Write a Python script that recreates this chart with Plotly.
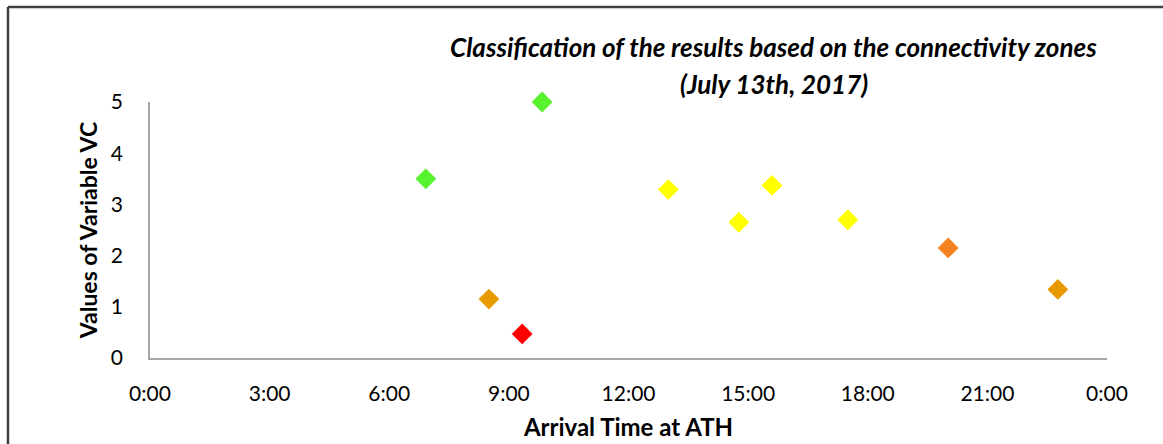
import plotly.graph_objects as go

arrival_times = ["6:55", "8:30", "9:20", "9:50", "13:00", "14:46", "15:36", "17:30", "20:01", "22:46"]
vc_values = [3.5, 1.15, 0.47, 5.0, 3.29, 2.65, 3.37, 2.70, 2.15, 1.34]
zone_colors = ["#58F22F", "#E89B00", "#FF0000", "#58F22F", "#FFFF00", "#FFFF00",
               "#FFFF00", "#FFFF00", "#F58220", "#E89B00"]
tick_hours = [0, 3, 6, 9, 12, 15, 18, 21, 24]
tick_labels = ["0:00", "3:00", "6:00", "9:00", "12:00", "15:00", "18:00", "21:00", "0:00"]


def to_hours(s):
    h, m = s.split(":")
    return int(h) + int(m) / 60.0


x_hours = [to_hours(t) for t in arrival_times]

FONT = "Lato"

fig = go.Figure()
fig.add_trace(go.Scatter(
    x=x_hours, y=vc_values, mode="markers", cliponaxis=False,
    marker=dict(symbol="diamond", size=16, color=zone_colors, line=dict(width=0)),
    showlegend=False,
))

fig.update_layout(
    width=1163, height=444,
    margin=dict(l=150, r=56, t=102, b=86, autoexpand=False),
    paper_bgcolor="white", plot_bgcolor="white",
    font=dict(family=FONT, size=21, color="black"),
    xaxis=dict(
        range=[0, 24], tickvals=tick_hours, ticktext=tick_labels, automargin=False,
        showgrid=False, zeroline=False, showline=True, linecolor="#A6A6A6",
        linewidth=1.5, ticks="", ticklabelstandoff=16,
        title=dict(text="<b>Arrival Time at ATH</b>", font=dict(size=24), standoff=15),
    ),
    yaxis=dict(
        range=[0, 5], dtick=1, automargin=False, showgrid=False, zeroline=False,
        showline=True, linecolor="#A6A6A6", linewidth=1.5, ticks="", ticklabelstandoff=21,
        title=dict(text="<b>Values of Variable VC</b>", font=dict(size=23), standoff=7),
    ),
    annotations=[
        dict(text="<b><i>Classification of the results based on the connectivity zones</i></b>",
             xref="paper", yref="paper", x=0.652, y=1.215, showarrow=False,
             xanchor="center", yanchor="middle", font=dict(size=26)),
        dict(text="<b><i>(July 13th, 2017)</i></b>",
             xref="paper", yref="paper", x=0.652, y=1.070, showarrow=False,
             xanchor="center", yanchor="middle", font=dict(size=26)),
    ],
    shapes=[
        dict(type="line", xref="paper", yref="paper",
             x0=-0.1484, x1=-0.1484, y0=-0.6, y1=1.371,
             line=dict(color="#404040", width=2.5)),
        dict(type="line", xref="paper", yref="paper",
             x0=-0.1484, x1=1.2, y0=1.371, y1=1.371,
             line=dict(color="#404040", width=2.5)),
    ],
)

fig.write_html(
    "out.html",
    config={"displayModeBar": False},
    post_script=(
        "document.body.style.margin='0';"
        "document.body.style.overflow='hidden';"
        "document.documentElement.style.overflow='hidden';"
    ),
)
